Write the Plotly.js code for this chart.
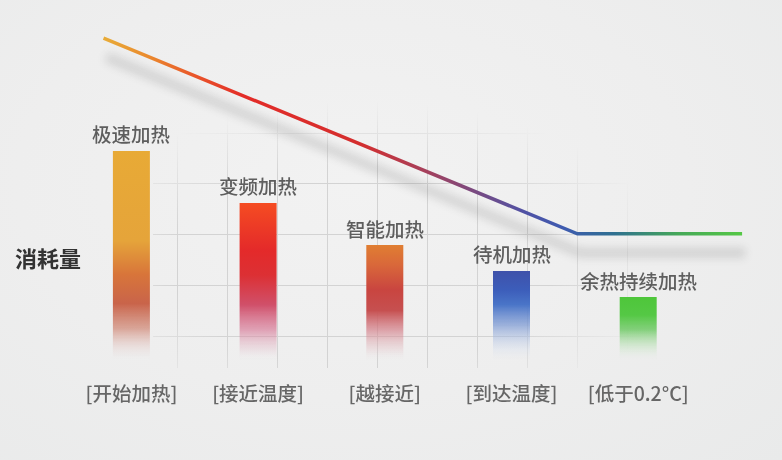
<!DOCTYPE html>
<html>
<head>
<meta charset="utf-8">
<script src="https://cdn.plot.ly/plotly-3.0.1.min.js"></script>
<style>
  html, body { margin:0; padding:0; }
  body { width:782px; height:460px; overflow:hidden;
    background: radial-gradient(ellipse at 45% 40%, #f2f2f2 0%, #eeeeee 55%, #e9eaea 100%); }
  #grafico { width:782px; height:460px; }
</style>
</head>
<body>
<div id="grafico"></div>
<script>
// datos
var etapas = ["[开始加热]", "[接近温度]", "[越接近]", "[到达温度]", "[低于0.2°C]"];
var modos = ["极速加热", "变频加热", "智能加热", "待机加热", "余热持续加热"];
var consumo = [61.5, 46.2, 33.8, 26.2, 18.5];
var curvaX = [-0.22, 3.52, 4.82];
var curvaY = [94.7, 37.1, 37.1];

var posiciones = [0, 1, 2, 3, 4];
var anchoBarra = 0.292;
var fuente = "Noto Sans CJK SC, Noto Sans, sans-serif";

// degradados de cada barra (abajo -> arriba)
var gradientes = [
  [[0, "rgba(236,228,228,0)"], [0.06, "rgba(225,190,185,0.3)"], [0.15, "rgba(205,125,105,0.65)"], [0.27, "#C9644A"], [0.41, "#D8753A"], [0.57, "#E5A43A"], [1, "#E8AA36"]],
  [[0, "rgba(236,226,230,0)"], [0.07, "rgba(225,180,195,0.3)"], [0.19, "rgba(215,120,150,0.65)"], [0.35, "#D0506A"], [0.54, "#DC3034"], [0.70, "#E42A2A"], [1, "#F54C22"]],
  [[0, "rgba(236,226,228,0)"], [0.09, "rgba(225,185,190,0.3)"], [0.26, "rgba(210,120,130,0.65)"], [0.43, "#C65050"], [0.61, "#C94540"], [0.83, "#D9683A"], [1, "#E07E32"]],
  [[0, "rgba(225,230,240,0)"], [0.11, "rgba(210,220,238,0.3)"], [0.39, "rgba(120,150,210,0.7)"], [0.62, "#4A75C8"], [0.79, "#3C5DBA"], [1, "#3F52AA"]],
  [[0, "rgba(225,236,225,0)"], [0.16, "rgba(190,228,185,0.3)"], [0.48, "rgba(105,200,95,0.8)"], [0.71, "#55C845"], [1, "#4EC63A"]]
];

var data = [];

// rejilla del fondo (subplot xy)
data.push({x: [], y: [], type: "scatter", xaxis: "x", yaxis: "y", hoverinfo: "skip", showlegend: false});

// barras con degradado
for (var i = 0; i < consumo.length; i++) {
  var a = posiciones[i] - anchoBarra / 2;
  var b = posiciones[i] + anchoBarra / 2;
  data.push({
    x: [a, a, b, b], y: [0, consumo[i], consumo[i], 0],
    xaxis: "x2", yaxis: "y2", type: "scatter", mode: "lines",
    line: {width: 0}, fill: "toself",
    fillgradient: {type: "vertical", colorscale: gradientes[i], start: 0, stop: consumo[i]},
    hoverinfo: "skip", showlegend: false
  });
}

// sombra de la curva
data.push({
  x: curvaX, y: curvaY, xaxis: "x2", yaxis: "y2", type: "scatter", mode: "lines",
  line: {color: "rgb(80, 80, 80)", width: 10}, opacity: 0.17,
  hoverinfo: "skip", showlegend: false
});

// curva de consumo
data.push({
  x: curvaX, y: curvaY, xaxis: "x2", yaxis: "y2", type: "scatter", mode: "lines",
  line: {color: "rgb(224, 48, 42)", width: 3.5},
  hoverinfo: "skip", showlegend: false
});

// etiquetas encima de las barras
var etiquetas = modos.map(function (m, i) {
  return {
    text: m, xref: "x2", yref: "y2", x: posiciones[i], y: consumo[i],
    xanchor: "center", yanchor: "middle", yshift: 17, showarrow: false,
    font: {family: fuente, size: 19.5, color: "#5e5e5e", weight: 500}
  };
});

var layout = {
  width: 782, height: 460,
  margin: {l: 0, r: 0, t: 0, b: 0},
  paper_bgcolor: "rgba(0,0,0,0)",
  plot_bgcolor: "rgba(0,0,0,0)",
  showlegend: false,
  xaxis: {domain: [0.19565, 0.83504], range: [0, 10], anchor: "y",
    tick0: 0.5, dtick: 1, showgrid: true, gridcolor: "#d3d3d3", gridwidth: 1,
    zeroline: false, showline: false, showticklabels: false, ticks: ""},
  yaxis: {domain: [0.20, 0.78], range: [-0.13, 5.13], anchor: "x",
    tick0: 0.5, dtick: 1, showgrid: true, gridcolor: "#d3d3d3", gridwidth: 1,
    zeroline: false, showline: false, showticklabels: false, ticks: ""},
  xaxis2: {domain: [0, 1], range: [-1.0371, 5.1350], anchor: "y2",
    tickmode: "array", tickvals: posiciones, ticktext: etapas,
    ticks: "outside", ticklen: 2, tickcolor: "rgba(0,0,0,0)",
    tickfont: {family: fuente, size: 19.5, color: "#666666", weight: 500},
    showgrid: false, zeroline: false, showline: false},
  yaxis2: {domain: [0.18478, 0.95652], range: [-4.41, 100], anchor: "x2",
    showgrid: false, zeroline: false, showline: false, showticklabels: false, ticks: ""},
  annotations: etiquetas.concat([{
    text: "<b>消耗量</b>", xref: "paper", yref: "paper",
    x: 0.0614, y: 0.441, xanchor: "center", yanchor: "middle", showarrow: false,
    font: {family: fuente, size: 22, color: "#333333"}
  }])
};

Plotly.newPlot("grafico", data, layout, {staticPlot: true}).then(function () {
  var ns = "http://www.w3.org/2000/svg";
  var svg = document.querySelector("#grafico .main-svg");
  var defs = svg.querySelector("defs");

  function nuevo(tag, attrs, padre) {
    var el = document.createElementNS(ns, tag);
    for (var k in attrs) el.setAttribute(k, attrs[k]);
    if (padre) padre.appendChild(el);
    return el;
  }

  // degradado de la curva
  var lg = nuevo("linearGradient", {id: "degradadoCurva", x1: 0, y1: 0, x2: 1, y2: 0}, defs);
  var paradas = [[0, "#E8AC38"], [0.07, "#EA8A2E"], [0.14, "#E9572A"], [0.22, "#E32C28"], [0.40, "#D42E2E"],
    [0.50, "#A8405A"], [0.58, "#7A4A80"], [0.66, "#5052A5"], [0.72, "#3E5BB0"],
    [0.80, "#2F7090"], [0.90, "#45A858"], [1, "#55C845"]];
  paradas.forEach(function (p) {
    nuevo("stop", {offset: p[0], "stop-color": p[1]}, lg);
  });

  // desenfoque para la sombra
  var f = nuevo("filter", {id: "desenfoque", x: "-20%", y: "-40%", width: "140%", height: "180%"}, defs);
  nuevo("feGaussianBlur", {stdDeviation: 4.5}, f);

  // rejilla que se desvanece en los bordes
  var rg = nuevo("radialGradient", {id: "fundidoGrad", cx: 0.42, cy: 0.62, r: 0.62}, defs);
  nuevo("stop", {offset: 0, "stop-color": "#fff"}, rg);
  nuevo("stop", {offset: 0.62, "stop-color": "#fff"}, rg);
  nuevo("stop", {offset: 1, "stop-color": "#000"}, rg);
  var m = nuevo("mask", {id: "fundido", maskContentUnits: "objectBoundingBox"}, defs);
  nuevo("rect", {x: 0, y: 0, width: 1, height: 1, fill: "url(#fundidoGrad)"}, m);
  var grid = svg.querySelector(".subplot.xy .gridlayer");
  if (grid) grid.setAttribute("mask", "url(#fundido)");

  document.querySelectorAll("#grafico .js-line").forEach(function (p) {
    var c = p.style.stroke;
    if (c === "rgb(224, 48, 42)") {
      p.style.stroke = "url(#degradadoCurva)";
    } else if (c === "rgb(80, 80, 80)") {
      p.setAttribute("transform", "translate(3,19)");
      p.setAttribute("filter", "url(#desenfoque)");
    }
  });
});
</script>
</body>
</html>
